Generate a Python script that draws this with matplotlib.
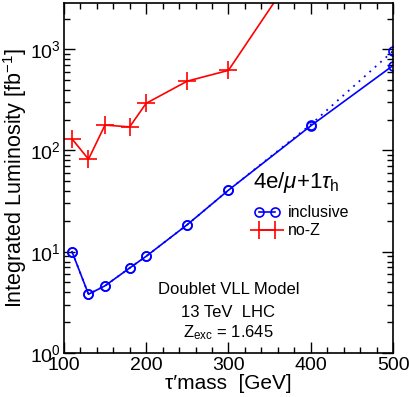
import matplotlib
matplotlib.use('Agg')
import matplotlib.pyplot as plt
from matplotlib.ticker import MultipleLocator, LogLocator, NullFormatter

plt.rcParams['font.family'] = ['Liberation Sans', 'DejaVu Sans']
plt.rcParams['mathtext.fontset'] = 'custom'
plt.rcParams['mathtext.rm'] = 'Liberation Sans'
plt.rcParams['mathtext.it'] = 'Liberation Sans:italic'

# tau' masses [GeV]
mass_incl = [110, 130, 150, 180, 200, 250, 300, 400, 500]
lumi_incl = [10.0, 3.8, 4.6, 6.9, 9.0, 18.5, 40.5, 175, 690]
# dotted inclusive variant
lumi_incl_dot = [10.0, 3.8, 4.6, 6.9, 9.0, 18.5, 40.5, 180, 960]

mass_noz = [110, 130, 150, 180, 200, 250, 300, 400]
lumi_noz = [130, 82, 178, 171, 292, 484, 618, 10000]

fig = plt.figure(figsize=(4.09, 3.97), dpi=100)
ax = fig.add_axes([0.156, 0.111, 0.805, 0.881])

ax.plot(mass_incl, lumi_incl_dot, color='blue', ls=(0, (1, 3)), lw=1.3,
        marker='o', ms=6.5, mfc='none', mew=1.2)
l1, = ax.plot(mass_incl, lumi_incl, color='blue', lw=1.2,
              marker='o', ms=6.5, mfc='none', mew=1.2, label='inclusive')
l2, = ax.plot(mass_noz, lumi_noz, color='red', lw=1.2,
              marker='+', ms=13, mew=1.2, label='no-Z')

ax.set_yscale('log')
ax.set_xlim(100, 500)
ax.set_ylim(1, 2850)

ax.xaxis.set_major_locator(MultipleLocator(100))
ax.xaxis.set_minor_locator(MultipleLocator(20))
ax.yaxis.set_major_locator(LogLocator(base=10, numticks=10))
ax.yaxis.set_minor_locator(LogLocator(base=10, subs=range(2, 10), numticks=10))
ax.yaxis.set_minor_formatter(NullFormatter())
ax.tick_params(which='both', direction='in', top=True, right=True,
               labelsize=14, width=1)
ax.tick_params(axis='x', pad=3)
ax.tick_params(axis='y', pad=2)
ax.tick_params(which='major', length=8)
ax.tick_params(which='minor', length=4)
for s in ax.spines.values():
    s.set_linewidth(1.2)

ax.set_xlabel("\u03c4\u2032mass  [GeV]", fontsize=15, labelpad=0)
ax.set_ylabel(r"Integrated Luminosity [fb$^{-1}$]", fontsize=15.5, labelpad=1)

ax.text(0.574, 0.486, r"4e/$\mu$+1$\tau_{\rm h}$", transform=ax.transAxes,
        fontsize=16, va='center', ha='left')
ax.text(0.50, 0.18, "Doublet VLL Model", transform=ax.transAxes,
        fontsize=12, ha='center', va='center')
ax.text(0.50, 0.115, "13 TeV  LHC", transform=ax.transAxes,
        fontsize=12, ha='center', va='center')
ax.text(0.50, 0.057, r"Z$_{\rm exc}$ = 1.645", transform=ax.transAxes,
        fontsize=12, ha='center', va='center')

ax.legend(handles=[l1, l2], loc='upper left', bbox_to_anchor=(0.555, 0.445),
          frameon=False, fontsize=11.5, handlelength=1.6, handletextpad=0.5,
          labelspacing=0.2, borderpad=0, numpoints=2)

fig.savefig('out.png', dpi=100)
